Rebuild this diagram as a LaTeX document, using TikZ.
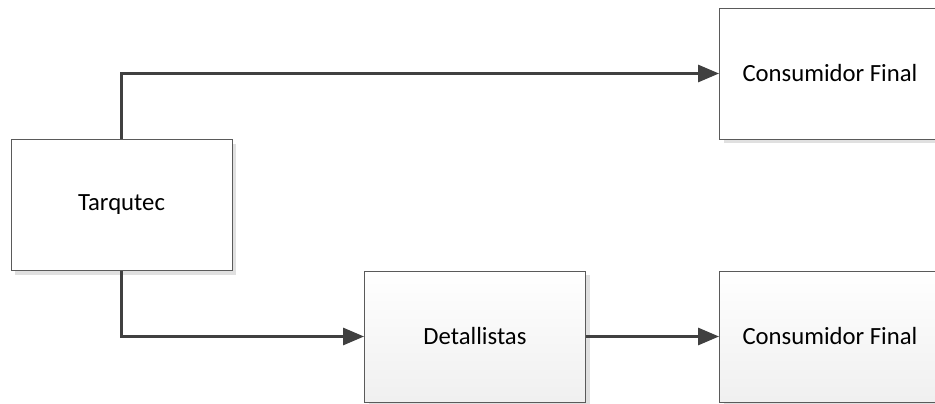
\documentclass[tikz,border=0pt]{standalone}
\usepackage{fontspec}
\setmainfont{Carlito}
\usetikzlibrary{arrows.meta}
\definecolor{linegray}{HTML}{404040}
\definecolor{framegray}{HTML}{5A5A5A}

\begin{document}
\begin{tikzpicture}[x=1pt,y=-1pt,
  caja/.style={rectangle,draw=framegray,line width=0.9pt,fill=white,
    minimum width=221pt,minimum height=131pt,inner sep=0pt,
    font=\fontsize{24.7}{30}\selectfont,
    preaction={fill=black!12,transform canvas={xshift=4pt,yshift=-4pt}}},
  cajag/.style={caja,top color=white,middle color=white,bottom color=black!6},
  flecha/.style={draw=linegray,line width=3pt,
    -{Triangle[length=21pt,width=17pt,fill=linegray]}}]
\useasboundingbox (0,0) rectangle (935,404);

\path (121.5,205) node[caja] (tarq) {Tarqutec};
\path (830,73.5) node[caja] (cons1) {Consumidor Final};
\path (475,336.5) node[cajag] (det) {Detallistas};
\path (830,336.5) node[cajag] (cons2) {Consumidor Final};

\draw[flecha] (tarq.north) |- (cons1.west);
\draw[flecha] (tarq.south) |- (det.west);
\draw[flecha] (det.east) -- (cons2.west);
\end{tikzpicture}
\end{document}
